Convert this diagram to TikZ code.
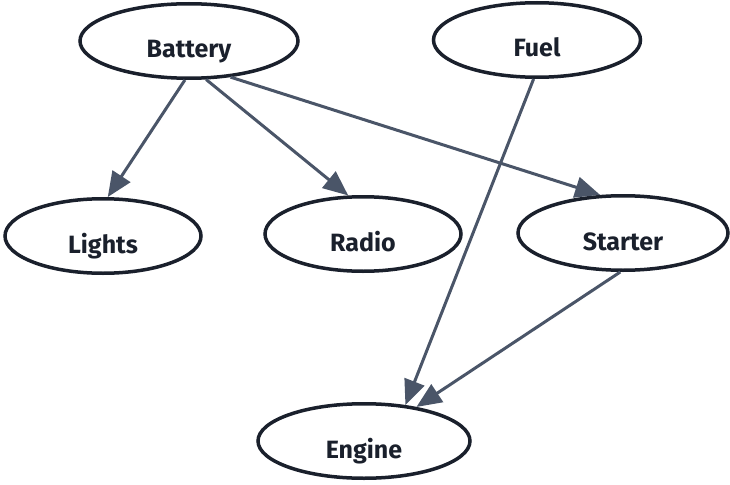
\documentclass[tikz,border=0pt]{standalone}
\usepackage{fontspec}
\setmainfont{Fira Sans}
\usetikzlibrary{arrows.meta,shapes.geometric}
\definecolor{nodeline}{HTML}{1A202C}
\definecolor{edgecol}{HTML}{4A5568}
\begin{document}
\begin{tikzpicture}[x=1pt,y=-1pt,
  vnode/.style={ellipse,draw=nodeline,line width=3.5pt,fill=white,inner sep=0pt,
    minimum height=74.5pt,text=nodeline,font=\fontsize{25}{28}\selectfont\bfseries,
    text height=34pt,text depth=0pt},
  link/.style={draw=edgecol,line width=3pt,-{Triangle[length=25pt,width=21pt]}}]
\useasboundingbox (0,0) rectangle (730,484);
\node[vnode,minimum width=218pt] (battery) at (189,41) {Battery};
\node[vnode,minimum width=207pt] (fuel) at (537,40) {Fuel};
\node[vnode,minimum width=196pt] (lights) at (103,236) {Lights};
\node[vnode,minimum width=196pt] (radio) at (363,234) {Radio};
\node[vnode,minimum width=210pt] (starter) at (623,233) {Starter};
\node[vnode,minimum width=212pt] (engine) at (364,441) {Engine};
\path[link] (battery.-96) -- (lights.83);
\path[link] (battery.-66) -- (radio.111);
\path[link] (battery.-41.5) -- (starter.121);
\path[link] (fuel.-95) -- (engine.41);
\path[link] (starter.-94) -- (engine.33);
\end{tikzpicture}
\end{document}
